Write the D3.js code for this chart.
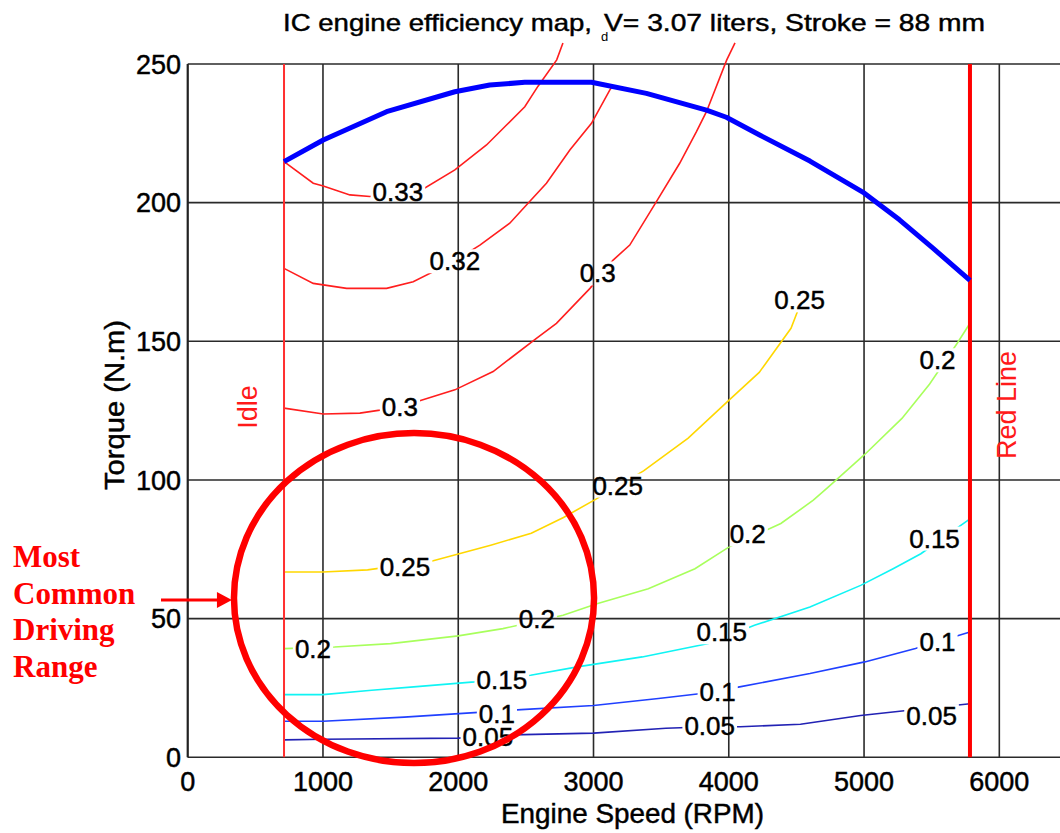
<!DOCTYPE html>
<html>
<head>
<meta charset="utf-8">
<script src="https://cdn.jsdelivr.net/npm/d3@7"></script>
<style>
  body { margin: 0; background: #fff; }
  svg { display: block; }
  text { font-family: "Liberation Sans", Arial, sans-serif; }
  .heavy { stroke: #000; stroke-width: 0.45px; }
</style>
</head>
<body>
<svg id="chart" width="1060" height="833"></svg>
<script>
// ---- data ----
var rpmTicks = [0, 1000, 2000, 3000, 4000, 5000, 6000];
var torqueTicks = [0, 50, 100, 150, 200, 250];
var idleRpm = 712;
var redlineRpm = 5783;

// max torque curve (rpm, N.m)
var maxTorque = [
  [712, 214.8], [1002, 222.6], [1470, 232.8], [1975, 240], [2233, 242.4],
  [2492, 243.4], [2985, 243.4], [3391, 239.4], [3835, 233.4], [3982, 230.8],
  [4228, 224.4], [4600, 215], [5000, 203.5], [5262, 193.8], [5509, 183.6], [5783, 172]
];

// efficiency contours, one array per level
var eff005 = [[712, 6.3], [1000, 6.5], [2000, 6.9], [2395, 8.1], [3000, 8.7], [3535, 10.5],
  [3850, 11.0], [4085, 11.0], [4530, 11.9], [4975, 15.1], [5315, 16.9], [5783, 19.3]];
var eff010 = [[712, 13.0], [1000, 13.0], [1600, 14.5], [2120, 16.1], [2465, 17.2], [3000, 18.7],
  [3480, 21.2], [3830, 23.2], [4080, 25.4], [4600, 30.2], [5005, 34.4], [5380, 39.2], [5783, 45.2]];
var eff015 = [[712, 22.6], [1000, 22.6], [1360, 24.2], [1670, 25.4], [2120, 27.2], [2535, 29.6],
  [2880, 32.6], [3360, 36.2], [3850, 41.0], [4190, 47.6], [4600, 54.2], [4975, 62.0],
  [5215, 68.0], [5420, 73.4], [5783, 86.0]];
var eff020 = [[712, 39.2], [1085, 39.8], [1500, 41.0], [2000, 43.8], [2330, 46.4], [2775, 51.2],
  [3025, 55.4], [3405, 60.8], [3750, 68.0], [4000, 75.8], [4385, 84.3], [4625, 92.7],
  [4735, 97.4], [5005, 109.2], [5280, 122.2], [5485, 134.6], [5690, 149.4], [5783, 156.5]];
var eff025 = [[712, 66.8], [1000, 66.8], [1330, 67.6], [1815, 70.9], [2240, 76.5], [2540, 80.8],
  [2778, 86.5], [3015, 93], [3370, 103.3], [3700, 115.1], [4000, 128.7], [4225, 138.8],
  [4460, 154.7], [4510, 161]];
var eff030 = [[712, 125.9], [1002, 123.8], [1273, 124.1], [1421, 125.2], [1692, 128.2],
  [1975, 132.5], [2258, 139.1], [2578, 151.1], [2726, 156.5], [2974, 169.1], [3145, 179.3],
  [3268, 184.7], [3465, 200.4], [3637, 214.2], [3761, 225.6], [3835, 232.8], [3985, 251.5],
  [4046, 257.6]];
var eff032 = [[712, 176.3], [928, 170.9], [1175, 169.1], [1470, 169.1], [1667, 171.5],
  [1975, 179], [2160, 184.7], [2381, 192.6], [2516, 199.8], [2652, 207], [2825, 219],
  [2985, 228.6], [3120, 240.6], [3133, 241.5]];
var eff033 = [[712, 214.8], [928, 207], [1002, 206], [1199, 202.8], [1347, 202.2],
  [1729, 204.6], [1975, 211.8], [2209, 220.8], [2357, 228], [2492, 234.6], [2590, 242],
  [2728, 251.5], [2774, 257.6]];

var contourLevels = [0.05, 0.1, 0.15, 0.2, 0.25, 0.3, 0.32, 0.33];
var contourLines = [eff005, eff010, eff015, eff020, eff025, eff030, eff032, eff033];

// contour labels: text, rpm, torque
var contourLabels = [
  ["0.33", 1554, 203.9], ["0.32", 1975, 179.0], ["0.3", 3031, 174.6], ["0.3", 1569, 126.3],
  ["0.25", 4524, 164.9], ["0.25", 3179, 98.1], ["0.25", 1606, 68.9],
  ["0.2", 5543, 143.3], ["0.2", 4140, 80.5], ["0.2", 2581, 49.9], ["0.2", 926, 39.1],
  ["0.15", 5521, 79.0], ["0.15", 3948, 45.2], ["0.15", 2322, 27.9],
  ["0.1", 5543, 41.6], ["0.1", 3918, 23.6], ["0.1", 2286, 15.9],
  ["0.05", 5499, 15.0], ["0.05", 3859, 11.3], ["0.05", 2219, 7.4]
];

// "most common driving range" ellipse: centre rpm, centre torque, half-width rpm, half-height N.m
var driveRange = [1673, 57.4, 1331, 59.5];
var driveRangeText = ["Most", "Common", "Driving", "Range"];

// ---- styles ----
var levelColor = {
  0.05: "#2222b4", 0.1: "#2040ff", 0.15: "#10f4f4", 0.2: "#a8ff5c",
  0.25: "#ffd700", 0.3: "#ff1e1e", 0.32: "#ff1e1e", 0.33: "#ff1e1e"
};

var svg = d3.select("#chart"),
    W = 1060, H = 833;

var x = d3.scaleLinear().domain([0, 6500]).range([187.7, 187.7 + 6500 * 0.13527]);
var y = d3.scaleLinear().domain([0, 250]).range([757.3, 64]);

var line = d3.line()
    .x(function (d) { return x(d[0]); })
    .y(function (d) { return y(d[1]); });

// gaps in contour lines under the labels
var mask = svg.append("defs").append("mask")
    .attr("id", "gaps")
    .attr("maskUnits", "userSpaceOnUse")
    .attr("x", 0).attr("y", 0).attr("width", W).attr("height", H);
mask.append("rect").attr("width", W).attr("height", H).attr("fill", "white");

// grid
var grid = svg.append("g").attr("stroke", "#2a2a2a").attr("stroke-width", 1.6);
grid.selectAll(".vx").data(rpmTicks).enter().append("line")
    .attr("x1", function (d) { return x(d); }).attr("x2", function (d) { return x(d); })
    .attr("y1", y(0)).attr("y2", y(250));
grid.selectAll(".hy").data(torqueTicks).enter().append("line")
    .attr("x1", x(0)).attr("x2", W)
    .attr("y1", function (d) { return y(d); }).attr("y2", function (d) { return y(d); });

// contours
var contours = svg.append("g").attr("mask", "url(#gaps)").attr("fill", "none");
contourLines.forEach(function (pts, i) {
  contours.append("path")
      .attr("d", line(pts))
      .attr("stroke", levelColor[contourLevels[i]])
      .attr("stroke-width", 1.6);
});

// idle and red line
svg.append("line")
    .attr("x1", x(idleRpm)).attr("x2", x(idleRpm))
    .attr("y1", y(0)).attr("y2", y(250))
    .attr("stroke", "#ff3030").attr("stroke-width", 2);
svg.append("line")
    .attr("x1", x(redlineRpm)).attr("x2", x(redlineRpm))
    .attr("y1", y(0)).attr("y2", y(250))
    .attr("stroke", "#ff0000").attr("stroke-width", 4);

// max torque
svg.append("path")
    .attr("d", line(maxTorque))
    .attr("fill", "none")
    .attr("stroke", "#0000ff")
    .attr("stroke-width", 5)
    .attr("stroke-linejoin", "round");

// contour labels
var labels = svg.append("g").attr("font-size", 26).attr("fill", "#000").attr("class", "heavy");
labels.selectAll("text").data(contourLabels).enter().append("text")
    .attr("x", function (d) { return x(d[1]); })
    .attr("y", function (d) { return y(d[2]); })
    .attr("text-anchor", "middle")
    .attr("dy", "0.36em")
    .text(function (d) { return d[0]; })
    .each(function () {
      var b = this.getBBox();
      mask.append("rect")
          .attr("x", b.x - 2).attr("y", b.y + 3)
          .attr("width", b.width + 4).attr("height", b.height - 6)
          .attr("fill", "black");
    });

// left axis line
svg.append("line").attr("x1", x(0)).attr("x2", x(0)).attr("y1", y(0)).attr("y2", y(250))
    .attr("stroke", "#222").attr("stroke-width", 2);

// tick labels
svg.append("g").attr("font-size", 27).attr("class", "heavy")
  .selectAll("text").data(torqueTicks).enter().append("text")
    .attr("x", 181).attr("y", function (d) { return y(d); })
    .attr("dy", "0.36em").attr("text-anchor", "end")
    .text(function (d) { return d; });
svg.append("g").attr("font-size", 27).attr("class", "heavy")
  .selectAll("text").data(rpmTicks).enter().append("text")
    .attr("x", function (d) { return x(d); }).attr("y", 791)
    .attr("text-anchor", "middle")
    .text(function (d) { return d; });

// axis titles
svg.append("text")
    .attr("class", "heavy")
    .attr("x", 501).attr("y", 823).attr("font-size", 27)
    .attr("textLength", 263).attr("lengthAdjust", "spacingAndGlyphs")
    .text("Engine Speed (RPM)");
svg.append("text")
    .attr("class", "heavy")
    .attr("transform", "translate(124,490) rotate(-90)")
    .attr("font-size", 27)
    .attr("textLength", 170).attr("lengthAdjust", "spacingAndGlyphs")
    .text("Torque (N.m)");

// title
svg.append("text")
    .attr("class", "heavy")
    .attr("x", 283).attr("y", 31).attr("font-size", 24)
    .attr("textLength", 309).attr("lengthAdjust", "spacingAndGlyphs")
    .text("IC engine efficiency map,");
svg.append("text")
    .attr("x", 601).attr("y", 41).attr("font-size", 13)
    .text("d");
svg.append("text")
    .attr("class", "heavy")
    .attr("x", 604).attr("y", 31).attr("font-size", 24)
    .attr("textLength", 381).attr("lengthAdjust", "spacingAndGlyphs")
    .text("V= 3.07 liters, Stroke = 88 mm");

// idle / red line labels
svg.append("text")
    .attr("transform", "translate(257," + 407 + ") rotate(-90)")
    .attr("text-anchor", "middle").attr("font-size", 27).attr("fill", "#ff1a1a")
    .text("Idle");
svg.append("text")
    .attr("transform", "translate(1016," + 405 + ") rotate(-90)")
    .attr("text-anchor", "middle").attr("font-size", 27).attr("fill", "#ff1a1a")
    .text("Red Line");

// driving range annotation
var ecx = x(driveRange[0]), ecy = y(driveRange[1]),
    erx = x(driveRange[0] + driveRange[2]) - ecx,
    ery = y(driveRange[1] - driveRange[3]) - ecy;
svg.append("ellipse")
    .attr("cx", ecx).attr("cy", ecy).attr("rx", erx).attr("ry", ery)
    .attr("fill", "none").attr("stroke", "#ff0000").attr("stroke-width", 6.5);

var tipX = ecx - erx - 2;
svg.append("line")
    .attr("x1", 161).attr("x2", tipX - 12)
    .attr("y1", ecy + 2).attr("y2", ecy + 2)
    .attr("stroke", "#ff0000").attr("stroke-width", 3);
svg.append("path")
    .attr("d", "M" + tipX + "," + (ecy + 2) + "L" + (tipX - 15) + "," + (ecy - 6) +
               "L" + (tipX - 15) + "," + (ecy + 10) + "Z")
    .attr("fill", "#ff0000");

svg.append("g")
    .attr("font-weight", "bold").attr("font-size", 31).attr("fill", "#ff0000")
  .selectAll("text").data(driveRangeText).enter().append("text")
    .attr("x", 13)
    .attr("y", function (d, i) { return 567 + i * 36.7; })
    .style("font-family", "'Liberation Serif', 'Times New Roman', serif")
    .text(function (d) { return d; });
</script>
</body>
</html>
